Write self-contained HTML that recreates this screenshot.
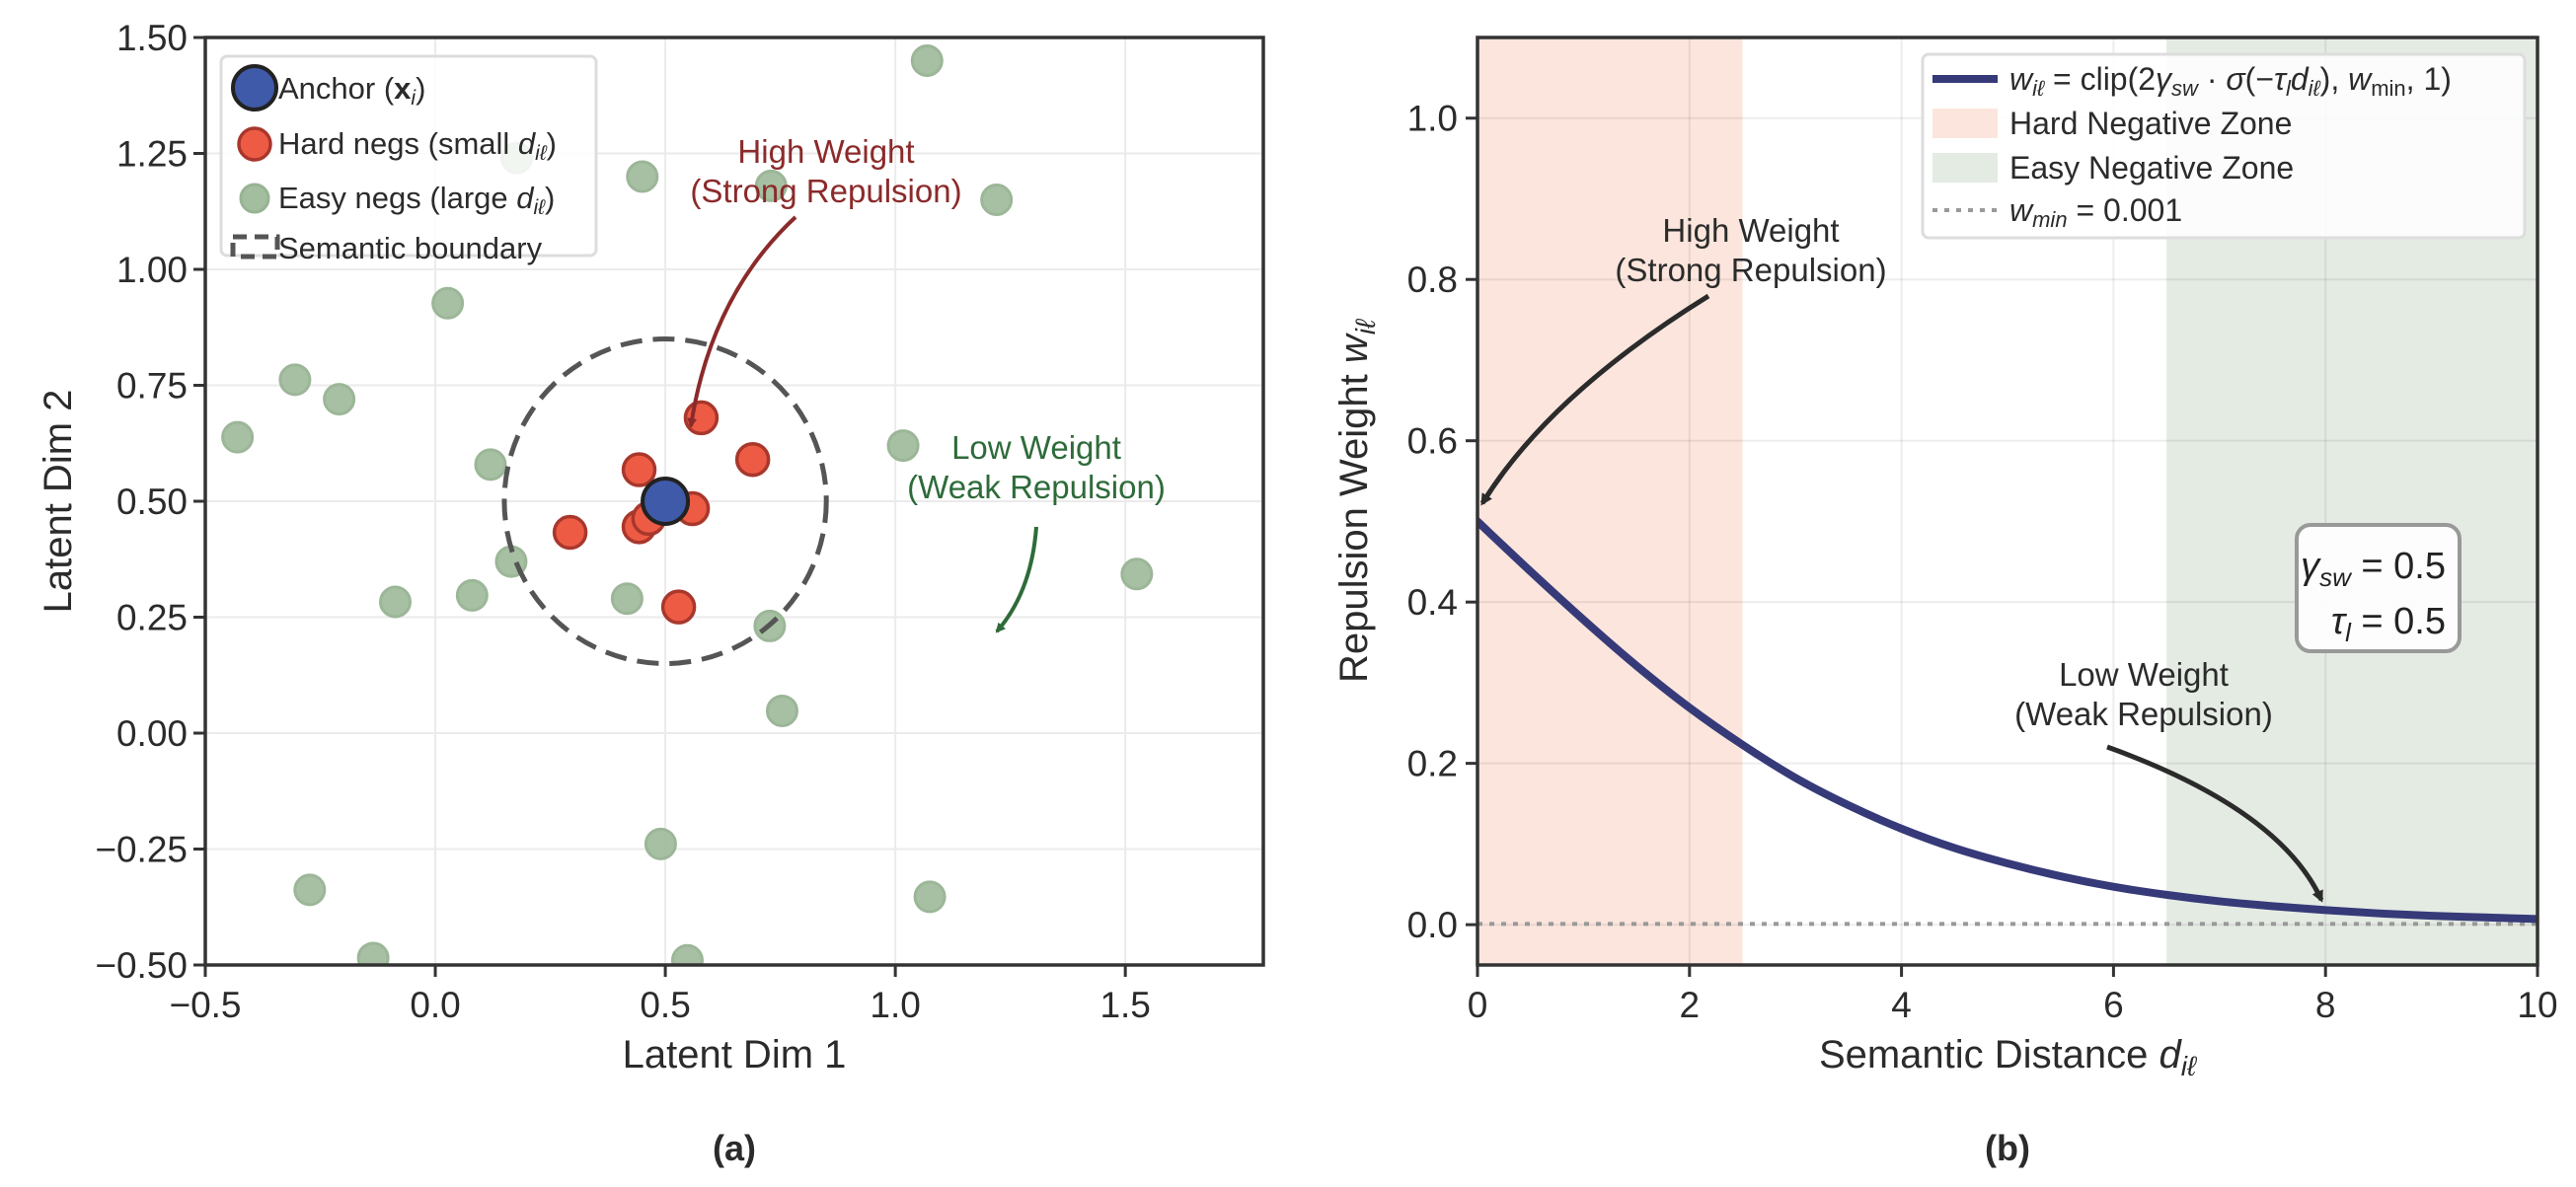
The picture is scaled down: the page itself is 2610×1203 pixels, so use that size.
<!DOCTYPE html>
<html><head><meta charset="utf-8"><style>
html,body{margin:0;padding:0;background:#fff;}
svg{display:block;font-family:"Liberation Sans",Arial,sans-serif;}
</style></head><body>
<svg id="fig" width="2610" height="1203" viewBox="0 0 2610 1203" xmlns="http://www.w3.org/2000/svg">
<defs>
<marker id="ahR" markerWidth="10" markerHeight="10" refX="8" refY="5" orient="auto" markerUnits="userSpaceOnUse" viewBox="0 0 10 10"><path d="M0,0 L10,5 L0,10 z" fill="#8b2a2a"/></marker>
<marker id="ahG" markerWidth="10" markerHeight="10" refX="8" refY="5" orient="auto" markerUnits="userSpaceOnUse" viewBox="0 0 10 10"><path d="M0,0 L10,5 L0,10 z" fill="#2e6b3a"/></marker>
<marker id="ahK" markerWidth="12" markerHeight="12" refX="9" refY="6" orient="auto" markerUnits="userSpaceOnUse" viewBox="0 0 12 12"><path d="M0,0 L12,6 L0,12 z" fill="#2b2b2b"/></marker>
<clipPath id="clipL"><rect x="208" y="38" width="1072" height="940"/></clipPath>
<clipPath id="clipR"><rect x="1497" y="38" width="1074" height="940"/></clipPath>
</defs>
<g id="left"></g>
<g id="right"></g>
</svg>
<script>
// ---- Left chart data ----
const easyX = [1.069,0.177,0.45,0.73,1.22,0.027,-0.305,-0.209,-0.43,0.12,1.017,0.165,0.08,-0.087,0.417,0.727,1.525,0.754,0.49,-0.273,1.075,-0.135,0.548];
const easyY = [1.45,1.24,1.20,1.18,1.15,0.927,0.762,0.72,0.638,0.579,0.62,0.37,0.297,0.283,0.29,0.231,0.343,0.048,-0.239,-0.338,-0.353,-0.485,-0.49];
const hardX = [0.578,0.69,0.443,0.559,0.293,0.443,0.464,0.529];
const hardY = [0.68,0.59,0.568,0.484,0.433,0.445,0.463,0.272];
const anchorX = [0.5];
const anchorY = [0.5];
const boundaryR = [0.35];
const xTicksL = [-0.5,0.0,0.5,1.0,1.5];
const xTickLabelsL = ["\u22120.5","0.0","0.5","1.0","1.5"];
const yTicksL = [-0.5,-0.25,0,0.25,0.5,0.75,1.0,1.25,1.5];
const yTickLabelsL = ["\u22120.50","\u22120.25","0.00","0.25","0.50","0.75","1.00","1.25","1.50"];
// ---- Right chart data ----
const distD = [0,0.5,1,1.5,2,2.5,3,3.5,4,4.5,5,5.5,6,6.5,7,7.5,8,8.5,9,9.5,10];
const weightW = [0.5,0.438,0.378,0.321,0.269,0.223,0.182,0.148,0.119,0.095,0.076,0.060,0.047,0.037,0.029,0.023,0.018,0.014,0.011,0.009,0.007];
const wMin = [0.001];
const hardZone = [0,2.5];
const easyZone = [6.5,10];
const xTicksR = [0,2,4,6,8,10];
const yTicksR = [0,0.2,0.4,0.6,0.8,1.0];
const yTickLabelsR = ["0.0","0.2","0.4","0.6","0.8","1.0"];

const NS="http://www.w3.org/2000/svg";
function mk(tag,attrs,parent,txt){const e=document.createElementNS(NS,tag);for(const k in attrs)e.setAttribute(k,attrs[k]);if(txt!==undefined)e.textContent=txt;parent.appendChild(e);return e;}

const L={x0:208,x1:1280,y0:978,y1:38,xmin:-0.5,xmax:1.8,ymin:-0.5,ymax:1.5};
const R={x0:1497,x1:2571,y0:978,y1:38,xmin:0,xmax:10,ymin:-0.05,ymax:1.1};
const sx=(A,v)=>A.x0+(v-A.xmin)/(A.xmax-A.xmin)*(A.x1-A.x0);
const sy=(A,v)=>A.y0-(v-A.ymin)/(A.ymax-A.ymin)*(A.y0-A.y1);

// ===== LEFT =====
const gl=document.getElementById('left');
xTicksL.forEach((t,i)=>{
  const x=sx(L,t);
  let g=mk('line',{x1:x,x2:x,y1:L.y1,y2:L.y0,stroke:'#ebebeb','stroke-width':2},gl);
  
  let tk=mk('line',{x1:x,x2:x,y1:L.y0,y2:L.y0+12,stroke:'#333','stroke-width':3},gl);
  
  let lb=mk('text',{x:x,y:1031,'font-size':37,'text-anchor':'middle',fill:'#2b2b2b'},gl,xTickLabelsL[i]);
  
});
yTicksL.forEach((t,i)=>{
  const y=sy(L,t);
  let g=mk('line',{x1:L.x0,x2:L.x1,y1:y,y2:y,stroke:'#ebebeb','stroke-width':2},gl);
  
  let tk=mk('line',{x1:L.x0-12,x2:L.x0,y1:y,y2:y,stroke:'#333','stroke-width':3},gl);
  
  let lb=mk('text',{x:L.x0-18,y:y+13,'font-size':37,'text-anchor':'end',fill:'#2b2b2b'},gl,yTickLabelsL[i]);
  
});
const pl=mk('g',{'clip-path':'url(#clipL)'},gl);

easyX.forEach((v,i)=>{
  const c=mk('circle',{cx:sx(L,v),cy:sy(L,easyY[i]),r:15,fill:'#a3bd9f',stroke:'#97b393','stroke-width':3,opacity:0.95},pl);
  
});
const bc=mk('ellipse',{cx:sx(L,anchorX[0]),cy:sy(L,anchorY[0]),rx:boundaryR[0]*(L.x1-L.x0)/(L.xmax-L.xmin),ry:boundaryR[0]*(L.y0-L.y1)/(L.ymax-L.ymin),fill:'none',stroke:'#555','stroke-width':5,'stroke-dasharray':'22 11'},pl);

hardX.forEach((v,i)=>{
  const c=mk('circle',{cx:sx(L,v),cy:sy(L,hardY[i]),r:16,fill:'#ee5b45',stroke:'#a8372c','stroke-width':3.5},pl);
  
});
const an=mk('circle',{cx:sx(L,anchorX[0]),cy:sy(L,anchorY[0]),r:23,fill:'#3f5aa8',stroke:'#222','stroke-width':4},pl);

const fl=mk('rect',{x:L.x0,y:L.y1,width:L.x1-L.x0,height:L.y0-L.y1,fill:'none',stroke:'#333','stroke-width':3.5},gl);

let t1=mk('text',{x:837,y:165,'font-size':33,'text-anchor':'middle',fill:'#8b2a2a'},gl);

mk('tspan',{x:837,dy:0},t1,'High Weight');mk('tspan',{x:837,dy:40},t1,'(Strong Repulsion)');
let a1=mk('path',{d:'M806,220 Q720,300 700,432',fill:'none',stroke:'#8b2a2a','stroke-width':4,'marker-end':'url(#ahR)'},gl);

let t2=mk('text',{x:1050,y:465,'font-size':33,'text-anchor':'middle',fill:'#2e6b3a'},gl);

mk('tspan',{x:1050,dy:0},t2,'Low Weight');mk('tspan',{x:1050,dy:40},t2,'(Weak Repulsion)');
let a2=mk('path',{d:'M1050,534 Q1045,600 1010,640',fill:'none',stroke:'#2e6b3a','stroke-width':4,'marker-end':'url(#ahG)'},gl);

const lg=mk('g',{},gl);
mk('rect',{x:224,y:57,width:380,height:202,rx:6,fill:'#fff','fill-opacity':0.85,stroke:'#ddd','stroke-width':3},lg);
mk('circle',{cx:258,cy:89,r:22,fill:'#3f5aa8',stroke:'#222','stroke-width':4},lg);
mk('circle',{cx:258,cy:146,r:16,fill:'#ee5b45',stroke:'#a8372c','stroke-width':3.5},lg);
mk('circle',{cx:258,cy:201,r:14,fill:'#a3bd9f',stroke:'#97b393','stroke-width':3},lg);
mk('rect',{x:236,y:240,width:45,height:20,fill:'none',stroke:'#555','stroke-width':5,'stroke-dasharray':'14 8'},lg);
let e1=mk('text',{x:282,y:100,'font-size':31,fill:'#2b2b2b'},lg);
mk('tspan',{},e1,'Anchor (');mk('tspan',{'font-weight':'bold'},e1,'x');mk('tspan',{'font-style':'italic','font-size':21,dy:6},e1,'i');mk('tspan',{dy:-6},e1,')');
let e2=mk('text',{x:282,y:156,'font-size':31,fill:'#2b2b2b'},lg);
mk('tspan',{},e2,'Hard negs (small ');mk('tspan',{'font-style':'italic'},e2,'d');mk('tspan',{'font-style':'italic','font-size':21,dy:6},e2,'iℓ');mk('tspan',{dy:-6},e2,')');
let e3=mk('text',{x:282,y:211,'font-size':31,fill:'#2b2b2b'},lg);
mk('tspan',{},e3,'Easy negs (large ');mk('tspan',{'font-style':'italic'},e3,'d');mk('tspan',{'font-style':'italic','font-size':21,dy:6},e3,'iℓ');mk('tspan',{dy:-6},e3,')');
let e4=mk('text',{x:282,y:262,'font-size':31,fill:'#2b2b2b'},lg,'Semantic boundary');
let xl=mk('text',{x:744,y:1082,'font-size':40,'text-anchor':'middle',fill:'#2b2b2b'},gl,'Latent Dim 1');
let yl=mk('text',{x:0,y:0,'font-size':40,'text-anchor':'middle',fill:'#2b2b2b',transform:'translate(72,508) rotate(-90)'},gl,'Latent Dim 2');
let ca=mk('text',{x:744,y:1176,'font-size':36,'font-weight':'bold','text-anchor':'middle',fill:'#2b2b2b'},gl,'(a)');

// ===== RIGHT =====
const gr=document.getElementById('right');
const hz=mk('rect',{x:sx(R,hardZone[0]),y:R.y1,width:sx(R,hardZone[1])-sx(R,hardZone[0]),height:R.y0-R.y1,fill:'#fbe5dc'},gr);

const ez=mk('rect',{x:sx(R,easyZone[0]),y:R.y1,width:sx(R,easyZone[1])-sx(R,easyZone[0]),height:R.y0-R.y1,fill:'#e4ebe3'},gr);

xTicksR.forEach(t=>{
  const x=sx(R,t);
  let g=mk('line',{x1:x,x2:x,y1:R.y1,y2:R.y0,stroke:'#000','stroke-opacity':0.07,'stroke-width':2},gr);
  
  let tk=mk('line',{x1:x,x2:x,y1:R.y0,y2:R.y0+12,stroke:'#333','stroke-width':3},gr);
  
  let lb=mk('text',{x:x,y:1031,'font-size':37,'text-anchor':'middle',fill:'#2b2b2b'},gr,String(t));
  
});
yTicksR.forEach((t,i)=>{
  const y=sy(R,t);
  let g=mk('line',{x1:R.x0,x2:R.x1,y1:y,y2:y,stroke:'#000','stroke-opacity':0.07,'stroke-width':2},gr);
  
  let tk=mk('line',{x1:R.x0-12,x2:R.x0,y1:y,y2:y,stroke:'#333','stroke-width':3},gr);
  
  let lb=mk('text',{x:R.x0-20,y:y+13,'font-size':37,'text-anchor':'end',fill:'#2b2b2b'},gr,yTickLabelsR[i]);
  
});
const pr=mk('g',{'clip-path':'url(#clipR)'},gr);

const wl=mk('line',{x1:R.x0,x2:R.x1,y1:sy(R,wMin[0]),y2:sy(R,wMin[0]),stroke:'#999','stroke-width':4,'stroke-dasharray':'5 7'},pr);

const pts=distD.map((d,i)=>[sx(R,d),sy(R,weightW[i])]);
let dpath='M'+pts[0][0]+','+pts[0][1];
for(let i=0;i<pts.length-1;i++){
  const p0=pts[Math.max(0,i-1)],p1=pts[i],p2=pts[i+1],p3=pts[Math.min(pts.length-1,i+2)];
  const c1=[p1[0]+(p2[0]-p0[0])/6,p1[1]+(p2[1]-p0[1])/6],c2=[p2[0]-(p3[0]-p1[0])/6,p2[1]-(p3[1]-p1[1])/6];
  dpath+=` C${c1[0]},${c1[1]} ${c2[0]},${c2[1]} ${p2[0]},${p2[1]}`;
}
const cv=mk('path',{d:dpath,fill:'none',stroke:'#363a78','stroke-width':8,'stroke-linecap':'round'},pr);

const fr=mk('rect',{x:R.x0,y:R.y1,width:R.x1-R.x0,height:R.y0-R.y1,fill:'none',stroke:'#333','stroke-width':3.5},gr);

let t3=mk('text',{x:1774,y:245,'font-size':33,'text-anchor':'middle',fill:'#2b2b2b'},gr);

mk('tspan',{x:1774,dy:0},t3,'High Weight');mk('tspan',{x:1774,dy:40},t3,'(Strong Repulsion)');
let a3=mk('path',{d:'M1731,300 Q1570,400 1502,510',fill:'none',stroke:'#2b2b2b','stroke-width':5,'marker-end':'url(#ahK)'},gr);

let t4=mk('text',{x:2172,y:695,'font-size':33,'text-anchor':'middle',fill:'#2b2b2b'},gr);

mk('tspan',{x:2172,dy:0},t4,'Low Weight');mk('tspan',{x:2172,dy:40},t4,'(Weak Repulsion)');
let a4=mk('path',{d:'M2135,757 Q2310,820 2352,912',fill:'none',stroke:'#2b2b2b','stroke-width':5,'marker-end':'url(#ahK)'},gr);

const pb=mk('g',{},gr);
mk('rect',{x:2327,y:532,width:165,height:128,rx:14,fill:'#fff','fill-opacity':0.9,stroke:'#999','stroke-width':4},pb);
let p1=mk('text',{x:2478,y:586,'font-size':38,'text-anchor':'end',fill:'#222'},pb);
mk('tspan',{'font-style':'italic'},p1,'γ');mk('tspan',{'font-style':'italic','font-size':26,dy:8},p1,'sw');mk('tspan',{dy:-8},p1,' = 0.5');
let p2=mk('text',{x:2478,y:642,'font-size':38,'text-anchor':'end',fill:'#222'},pb);
mk('tspan',{'font-style':'italic'},p2,'τ');mk('tspan',{'font-style':'italic','font-size':26,dy:8},p2,'l');mk('tspan',{dy:-8},p2,' = 0.5');
const lr=mk('g',{},gr);
mk('rect',{x:1948,y:55,width:610,height:186,rx:6,fill:'#fff','fill-opacity':0.85,stroke:'#ddd','stroke-width':3},lr);
mk('line',{x1:1958,x2:2024,y1:80,y2:80,stroke:'#363a78','stroke-width':8},lr);
mk('rect',{x:1958,y:110,width:66,height:30,fill:'#fbe5dc'},lr);
mk('rect',{x:1958,y:155,width:66,height:30,fill:'#e4ebe3'},lr);
mk('line',{x1:1958,x2:2024,y1:213,y2:213,stroke:'#999','stroke-width':4,'stroke-dasharray':'5 7'},lr);
let r1=mk('text',{x:2036,y:91,'font-size':32,fill:'#2b2b2b'},lr);
mk('tspan',{'font-style':'italic'},r1,'w');mk('tspan',{'font-style':'italic','font-size':22,dy:6},r1,'iℓ');mk('tspan',{dy:-6},r1,' = clip(2');mk('tspan',{'font-style':'italic'},r1,'γ');mk('tspan',{'font-style':'italic','font-size':22,dy:6},r1,'sw');mk('tspan',{dy:-6},r1,' · ');mk('tspan',{'font-style':'italic'},r1,'σ');mk('tspan',{},r1,'(−');mk('tspan',{'font-style':'italic'},r1,'τ');mk('tspan',{'font-style':'italic','font-size':22,dy:6},r1,'l');mk('tspan',{'font-style':'italic',dy:-6},r1,'d');mk('tspan',{'font-style':'italic','font-size':22,dy:6},r1,'iℓ');mk('tspan',{dy:-6},r1,'), ');mk('tspan',{'font-style':'italic'},r1,'w');mk('tspan',{'font-size':22,dy:6},r1,'min');mk('tspan',{dy:-6},r1,', 1)');
let r2=mk('text',{x:2036,y:136,'font-size':32,fill:'#2b2b2b'},lr,'Hard Negative Zone');
let r3=mk('text',{x:2036,y:181,'font-size':32,fill:'#2b2b2b'},lr,'Easy Negative Zone');
let r4=mk('text',{x:2036,y:224,'font-size':32,fill:'#2b2b2b'},lr);
mk('tspan',{'font-style':'italic'},r4,'w');mk('tspan',{'font-style':'italic','font-size':22,dy:6},r4,'min');mk('tspan',{dy:-6},r4,' = 0.001');
let xr=mk('text',{x:2034,y:1082,'font-size':40,'text-anchor':'middle',fill:'#2b2b2b'},gr);
mk('tspan',{},xr,'Semantic Distance ');mk('tspan',{'font-style':'italic'},xr,'d');mk('tspan',{'font-style':'italic','font-size':28,dy:8},xr,'iℓ');
let yr=mk('text',{x:0,y:0,'font-size':40,'text-anchor':'middle',fill:'#2b2b2b',transform:'translate(1385,508) rotate(-90)'},gr);
mk('tspan',{},yr,'Repulsion Weight ');mk('tspan',{'font-style':'italic'},yr,'w');mk('tspan',{'font-style':'italic','font-size':28,dy:8},yr,'iℓ');
let cb=mk('text',{x:2034,y:1176,'font-size':36,'font-weight':'bold','text-anchor':'middle',fill:'#2b2b2b'},gr,'(b)');
</script>
</body></html>
